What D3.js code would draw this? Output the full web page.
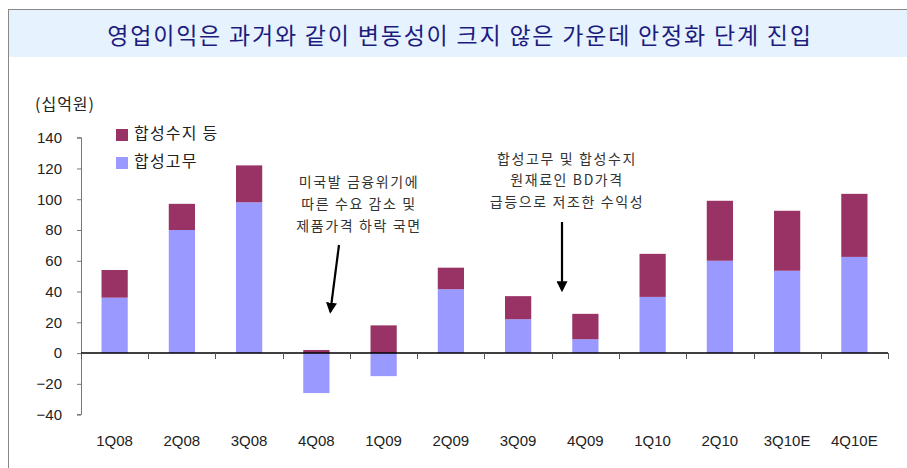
<!DOCTYPE html>
<html>
<head>
<meta charset="utf-8">
<script src="https://cdn.jsdelivr.net/npm/d3@7"></script>
<style>
  body { margin: 0; background: #fff; }
  svg text { font-family: "Noto Sans CJK KR", "Liberation Sans", sans-serif; }
</style>
</head>
<body>
<div id="chartDiv"></div>
<script>
// chart data
var quarters = ["1Q08", "2Q08", "3Q08", "4Q08", "1Q09", "2Q09", "3Q09", "4Q09", "1Q10", "2Q10", "3Q10E", "4Q10E"];
var rubber = [36, 80, 98, -26, -15, 41.5, 22, 9, 36.5, 60, 53.5, 62.5];   // 합성고무
var resin  = [18, 17, 24, 2, 18, 14, 15, 16.5, 28, 39, 39, 41];          // 합성수지 등
var yTicks = [-40, -20, 0, 20, 40, 60, 80, 100, 120, 140];
var seriesNames = ["합성고무", "합성수지 등"];
var titleText = "영업이익은 과거와 같이 변동성이 크지 않은 가운데 안정화 단계 진입";
var unitText = "(십억원)";
var note1 = ["미국발 금융위기에", "따른 수요 감소 및", "제품가격 하락 국면"];
var note2 = ["합성고무 및 합성수지", "원재료인 BD가격", "급등으로 저조한 수익성"];

var width = 907, height = 468;
var colours = { "합성고무": "#9999ff", "합성수지 등": "#993366" };

var svg = d3.select("#chartDiv").append("svg")
    .attr("width", width)
    .attr("height", height);

// frame + title band
svg.append("rect")
    .attr("x", 8).attr("y", 9)
    .attr("width", width - 8).attr("height", 48)
    .attr("fill", "#e6f2fd");
svg.append("line")
    .attr("x1", 8).attr("x2", width).attr("y1", 9.5).attr("y2", 9.5)
    .attr("stroke", "#888");
svg.append("line")
    .attr("x1", 8.5).attr("x2", 8.5).attr("y1", 9).attr("y2", height)
    .attr("stroke", "#888");

svg.append("text")
    .attr("x", 460).attr("y", 38)
    .attr("text-anchor", "middle")
    .attr("dominant-baseline", "middle")
    .attr("fill", "#1c1c7e")
    .style("font-size", "23px")
    .style("letter-spacing", "1.8px")
    .text(titleText);

// scales
var x = d3.scaleBand()
    .domain(quarters)
    .range([81, 888])
    .paddingInner(0.61)
    .paddingOuter(0.305);

var y = d3.scaleLinear()
    .domain([-40, 140])
    .range([414.6, 137.7]);

// stacked data (negatives go below zero)
var table = quarters.map(function(q, i) {
  return { quarter: q, "합성고무": rubber[i], "합성수지 등": resin[i] };
});
var stacked = d3.stack()
    .keys(seriesNames)
    .offset(d3.stackOffsetDiverging)(table);

svg.append("g")
  .selectAll("g")
  .data(stacked)
  .enter()
  .append("g")
    .attr("fill", function(d) { return colours[d.key]; })
  .selectAll("rect")
  .data(function(d) { return d; })
  .enter()
  .append("rect")
    .attr("x", function(d) { return x(d.data.quarter); })
    .attr("width", x.bandwidth())
    .attr("y", function(d) { return y(Math.max(d[0], d[1])); })
    .attr("height", function(d) { return Math.abs(y(d[0]) - y(d[1])); });

// y axis
var yAxis = svg.append("g")
    .attr("transform", "translate(81,0)")
    .call(d3.axisLeft(y).tickValues(yTicks).tickSize(4).tickPadding(15)
      .tickFormat(function(d) { return d < 0 ? "\u2212" + Math.abs(d) : d; }));
yAxis.select(".domain").attr("stroke", "#777").attr("d", "M-4," + y(140) + "H0.5V" + y(-40) + "H-4");
yAxis.selectAll(".tick line").attr("stroke", "#777");
yAxis.selectAll("text")
    .attr("fill", "#222")
    .style("font-family", "'Liberation Sans', sans-serif")
    .style("font-size", "15px");

// x axis along zero
var xAxis = svg.append("g")
    .attr("transform", "translate(0," + y(0) + ")")
    .call(d3.axisBottom(x).tickSize(0).tickFormat(""));
xAxis.select(".domain").attr("stroke", "#000").attr("stroke-width", 1.5)
    .attr("d", "M81,0H888");
// boundary ticks between categories
var bounds = quarters.map(function(q) { return x(q) - x.step() * x.paddingInner() / 2; });
bounds.push(888);
xAxis.selectAll(".sep")
  .data(bounds)
  .enter()
  .append("line")
    .attr("class", "sep")
    .attr("x1", function(d) { return Math.round(d) + 0.5; })
    .attr("x2", function(d) { return Math.round(d) + 0.5; })
    .attr("y1", 0).attr("y2", 6)
    .attr("stroke", "#555");

// category labels at the bottom
svg.append("g")
  .selectAll("text")
  .data(quarters)
  .enter()
  .append("text")
    .attr("x", function(d) { return x(d) + x.bandwidth() / 2; })
    .attr("y", 446)
    .attr("text-anchor", "middle")
    .attr("fill", "#222")
    .style("font-family", "'Liberation Sans Narrow', 'Liberation Sans', sans-serif")
    .style("font-size", "15px")
    .text(function(d) { return d; });

// unit label
svg.append("text")
    .attr("x", 35).attr("y", 110)
    .attr("fill", "#222")
    .style("font-size", "16px")
    .style("letter-spacing", "1px")
    .text(unitText);

// legend
var legendOrder = ["합성수지 등", "합성고무"];
var legend = svg.append("g")
  .selectAll("g")
  .data(legendOrder)
  .enter()
  .append("g")
    .attr("transform", function(d, i) { return "translate(116," + (129 + i * 28) + ")"; });
legend.append("rect")
    .attr("width", 12).attr("height", 12)
    .attr("fill", function(d) { return colours[d]; });
legend.append("text")
    .attr("x", 18).attr("y", 6)
    .attr("dominant-baseline", "middle")
    .attr("fill", "#222")
    .style("font-size", "16px")
    .style("letter-spacing", "1.2px")
    .text(function(d) { return d; });

// annotations
svg.append("defs").append("marker")
    .attr("id", "arrowHead")
    .attr("viewBox", "0 0 10 10")
    .attr("refX", 8).attr("refY", 5)
    .attr("markerWidth", 5).attr("markerHeight", 5)
    .attr("orient", "auto")
  .append("path")
    .attr("d", "M0,0L10,5L0,10Z")
    .attr("fill", "#000");

function addNote(lines, cx, top, lineGap) {
  svg.append("g")
    .selectAll("text")
    .data(lines)
    .enter()
    .append("text")
      .attr("x", cx)
      .attr("y", function(d, i) { return top + i * lineGap; })
      .attr("text-anchor", "middle")
      .attr("dominant-baseline", "middle")
      .attr("fill", "#333")
      .style("font-size", "14px")
      .style("letter-spacing", "1.6px")
      .text(function(d) { return d; });
}
addNote(note1, 359, 183, 22);
addNote(note2, 567, 160, 21.5);

svg.append("line")
    .attr("x1", 339).attr("y1", 245)
    .attr("x2", x("4Q08") + x.bandwidth() / 2 + 14).attr("y2", y(27))
    .attr("stroke", "#000").attr("stroke-width", 2.2)
    .attr("marker-end", "url(#arrowHead)");
svg.append("line")
    .attr("x1", 562).attr("y1", 222)
    .attr("x2", 562).attr("y2", y(41))
    .attr("stroke", "#000").attr("stroke-width", 2.2)
    .attr("marker-end", "url(#arrowHead)");
</script>
</body>
</html>
